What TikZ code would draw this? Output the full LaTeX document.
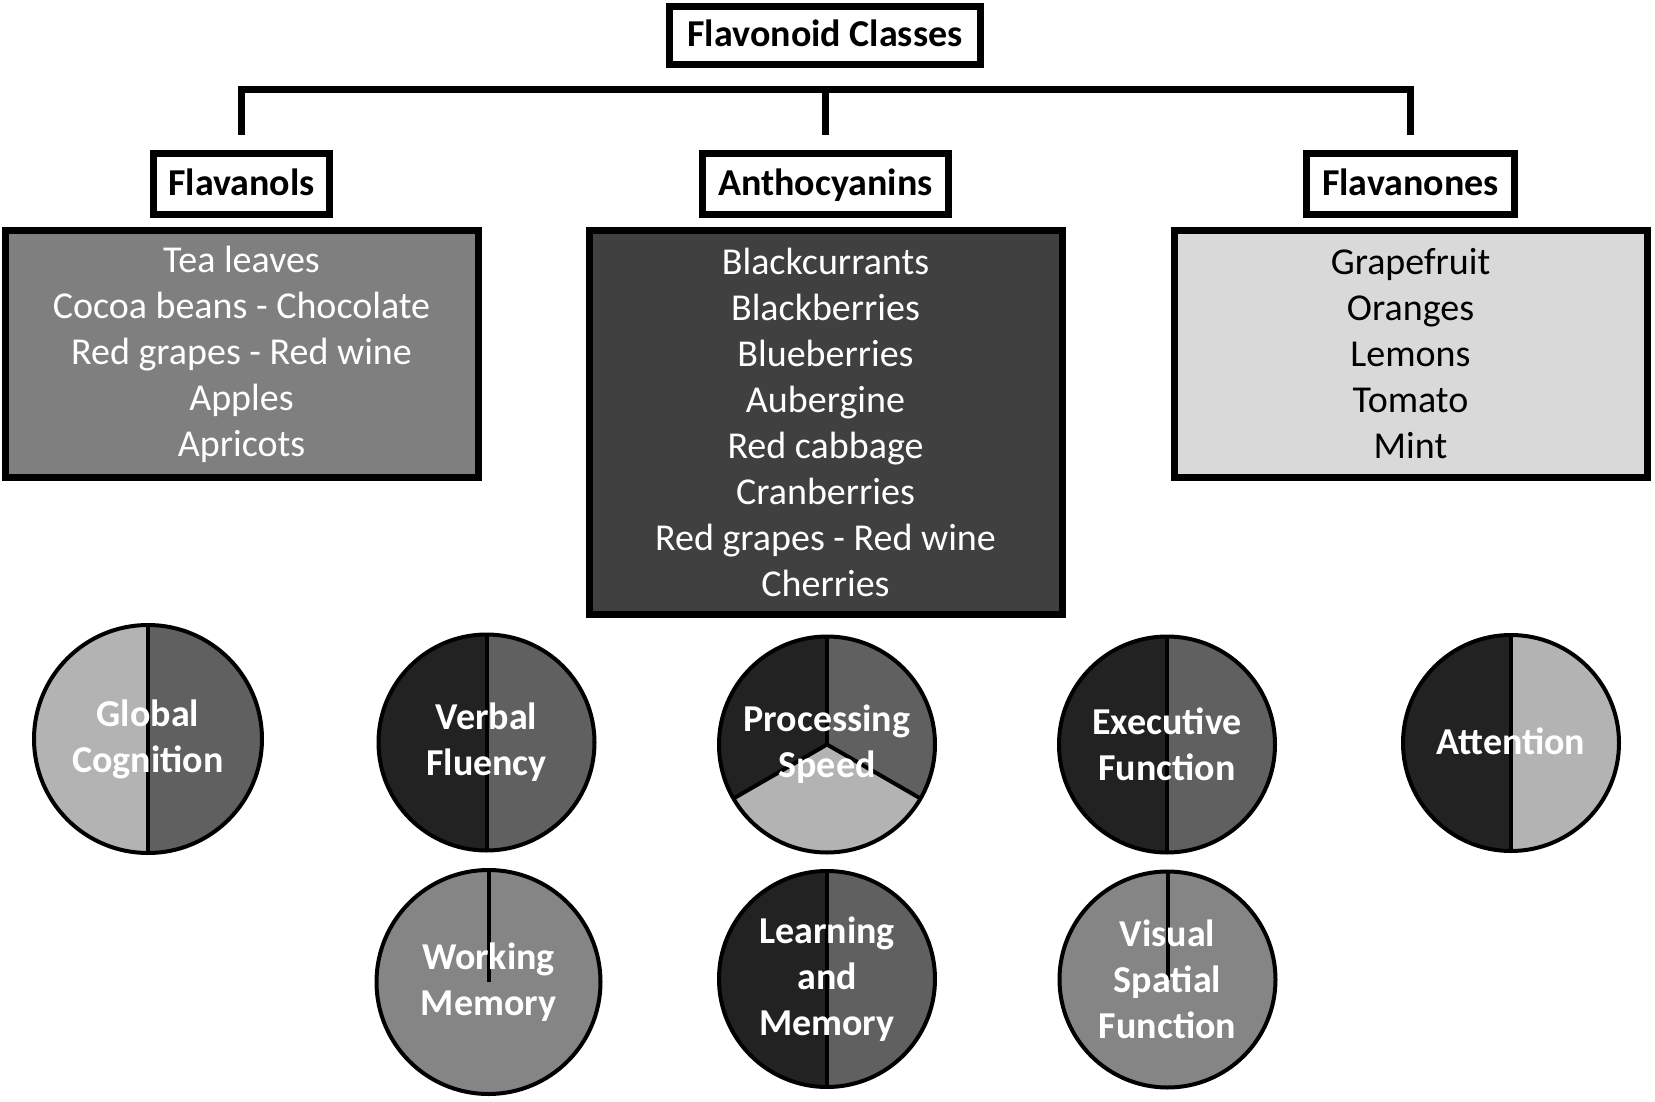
\documentclass[tikz,border=0pt]{standalone}
\usepackage{fontspec}
\setmainfont{Carlito}
\usetikzlibrary{positioning}

\definecolor{piedark}{HTML}{222222}
\definecolor{piemid}{HTML}{606060}
\definecolor{pielight}{HTML}{B3B3B3}
\definecolor{piegrey}{HTML}{858585}
\definecolor{flfill}{HTML}{7F7F7F}
\definecolor{anfill}{HTML}{404040}
\definecolor{fvfill}{HTML}{D9D9D9}

\begin{document}
\begin{tikzpicture}[x=0.5pt, y=-0.5pt,
		every node/.style={font=\fontsize{19}{23}\selectfont, align=center, inner sep=0pt},
		classbox/.style={draw, line width=3.5pt, fill=white, font=\fontsize{19}{23}\selectfont\bfseries, minimum height=30.5pt, text height=15pt, text depth=4pt},
		foodbox/.style={draw, line width=3.5pt, minimum width=236.5pt},
		cogpie/.style={circle, draw, line width=2pt, text=white, font=\fontsize{19}{23}\selectfont\bfseries},
		divider/.style={line width=2pt},
		tree/.style={line width=3.5pt, line join=miter}]
	\useasboundingbox (0,0) rectangle (1655,1102);

	% classes
	\node (top) [classbox, minimum width=155.5pt, minimum height=29pt] at (825,35.5) {Flavonoid Classes};
	\node (fl) [classbox, minimum width=88pt] at (241.5,184) {Flavanols};
	\node (an) [classbox, minimum width=123pt] at (825.5,184) {Anthocyanins};
	\node (fv) [classbox, minimum width=104pt] at (1410.5,184) {Flavanones};

	\coordinate (bar) at ([yshift=-10.75pt]top.south);
	\coordinate (barL) at ([yshift=7.5pt]fl.north);
	\coordinate (barM) at ([yshift=7.5pt]an.north);
	\coordinate (barR) at ([yshift=7.5pt]fv.north);
	\draw [tree] (barL) |- (bar) -| (barR);
	\draw [tree] (barM |- bar) -- (barM);

	% foods
	\node (flfood) [foodbox, below=4.5pt of fl, fill=flfill, text=white, minimum height=123.5pt]
		{Tea leaves\\Cocoa beans - Chocolate\\Red grapes - Red wine\\Apples\\Apricots};
	\node (anfood) [foodbox, below=4.5pt of an, fill=anfill, text=white, minimum height=192pt]
		{Blackcurrants\\Blackberries\\Blueberries\\Aubergine\\Red cabbage\\Cranberries\\Red grapes - Red wine\\Cherries};
	\node (fvfood) [foodbox, below=4.5pt of fv, fill=fvfill, minimum height=123.5pt]
		{Grapefruit\\Oranges\\Lemons\\Tomato\\Mint};

	% cognitive domains
	\coordinate (gcc) at (148,739);
	\fill [pielight] (gcc) -- ++(90:57pt) arc [start angle=90, end angle=270, radius=57pt] -- cycle;
	\fill [piemid] (gcc) -- ++(90:57pt) arc [start angle=90, end angle=-90, radius=57pt] -- cycle;
	\draw [divider] (gcc) ++(90:57pt) -- ++(-90:114pt);
	\node (gc) [cogpie, minimum size=114pt] at (gcc) {Global\\Cognition};

	\coordinate (vfc) at (486.5,742.5);
	\fill [piedark] (vfc) -- ++(90:54pt) arc [start angle=90, end angle=270, radius=54pt] -- cycle;
	\fill [piemid] (vfc) -- ++(90:54pt) arc [start angle=90, end angle=-90, radius=54pt] -- cycle;
	\draw [divider] (vfc) ++(90:54pt) -- ++(-90:108pt);
	\node (vf) [cogpie, minimum size=108pt] at (vfc) {Verbal\\Fluency};

	\coordinate (wmc) at (488.5,982);
	\fill [piegrey] (wmc) circle [radius=56pt];
	\draw [divider] (wmc) -- ++(90:56pt);
	\node (wm) [cogpie, minimum size=112pt] at (wmc) {Working\\Memory};

	\coordinate (psc) at (827,744.5);
	\fill [piedark] (psc) -- ++(90:54pt) arc [start angle=90, end angle=210, radius=54pt] -- cycle;
	\fill [piemid] (psc) -- ++(90:54pt) arc [start angle=90, end angle=-30, radius=54pt] -- cycle;
	\fill [pielight] (psc) -- ++(210:54pt) arc [start angle=210, end angle=330, radius=54pt] -- cycle;
	\draw [divider] (psc) -- ++(90:54pt);
	\draw [divider] (psc) -- ++(210:54pt);
	\draw [divider] (psc) -- ++(330:54pt);
	\node (ps) [cogpie, minimum size=108pt] at (psc) {Processing\\Speed};

	\coordinate (lmc) at (827,979);
	\fill [piedark] (lmc) -- ++(90:54pt) arc [start angle=90, end angle=270, radius=54pt] -- cycle;
	\fill [piemid] (lmc) -- ++(90:54pt) arc [start angle=90, end angle=-90, radius=54pt] -- cycle;
	\draw [divider] (lmc) ++(90:54pt) -- ++(-90:108pt);
	\node (lm) [cogpie, minimum size=108pt] at (lmc) {Learning\\and\\Memory};

	\coordinate (efc) at (1167,744.5);
	\fill [piedark] (efc) -- ++(90:54pt) arc [start angle=90, end angle=270, radius=54pt] -- cycle;
	\fill [piemid] (efc) -- ++(90:54pt) arc [start angle=90, end angle=-90, radius=54pt] -- cycle;
	\draw [divider] (efc) ++(90:54pt) -- ++(-90:108pt);
	\node (ef) [cogpie, minimum size=108pt] at (efc) {Executive\\Function};

	\coordinate (vsc) at (1167.5,979.5);
	\fill [piegrey] (vsc) circle [radius=54pt];
	\draw [divider] (vsc) -- ++(90:54pt);
	\node (vs) [cogpie, minimum size=108pt] at (vsc) {Visual\\Spatial\\Function};

	\coordinate (attc) at (1511,743);
	\fill [piedark] (attc) -- ++(90:54pt) arc [start angle=90, end angle=270, radius=54pt] -- cycle;
	\fill [pielight] (attc) -- ++(90:54pt) arc [start angle=90, end angle=-90, radius=54pt] -- cycle;
	\draw [divider] (attc) ++(90:54pt) -- ++(-90:108pt);
	\node (att) [cogpie, minimum size=108pt, text height=15pt, text depth=4pt] at (attc) {Attention};
\end{tikzpicture}
\end{document}
